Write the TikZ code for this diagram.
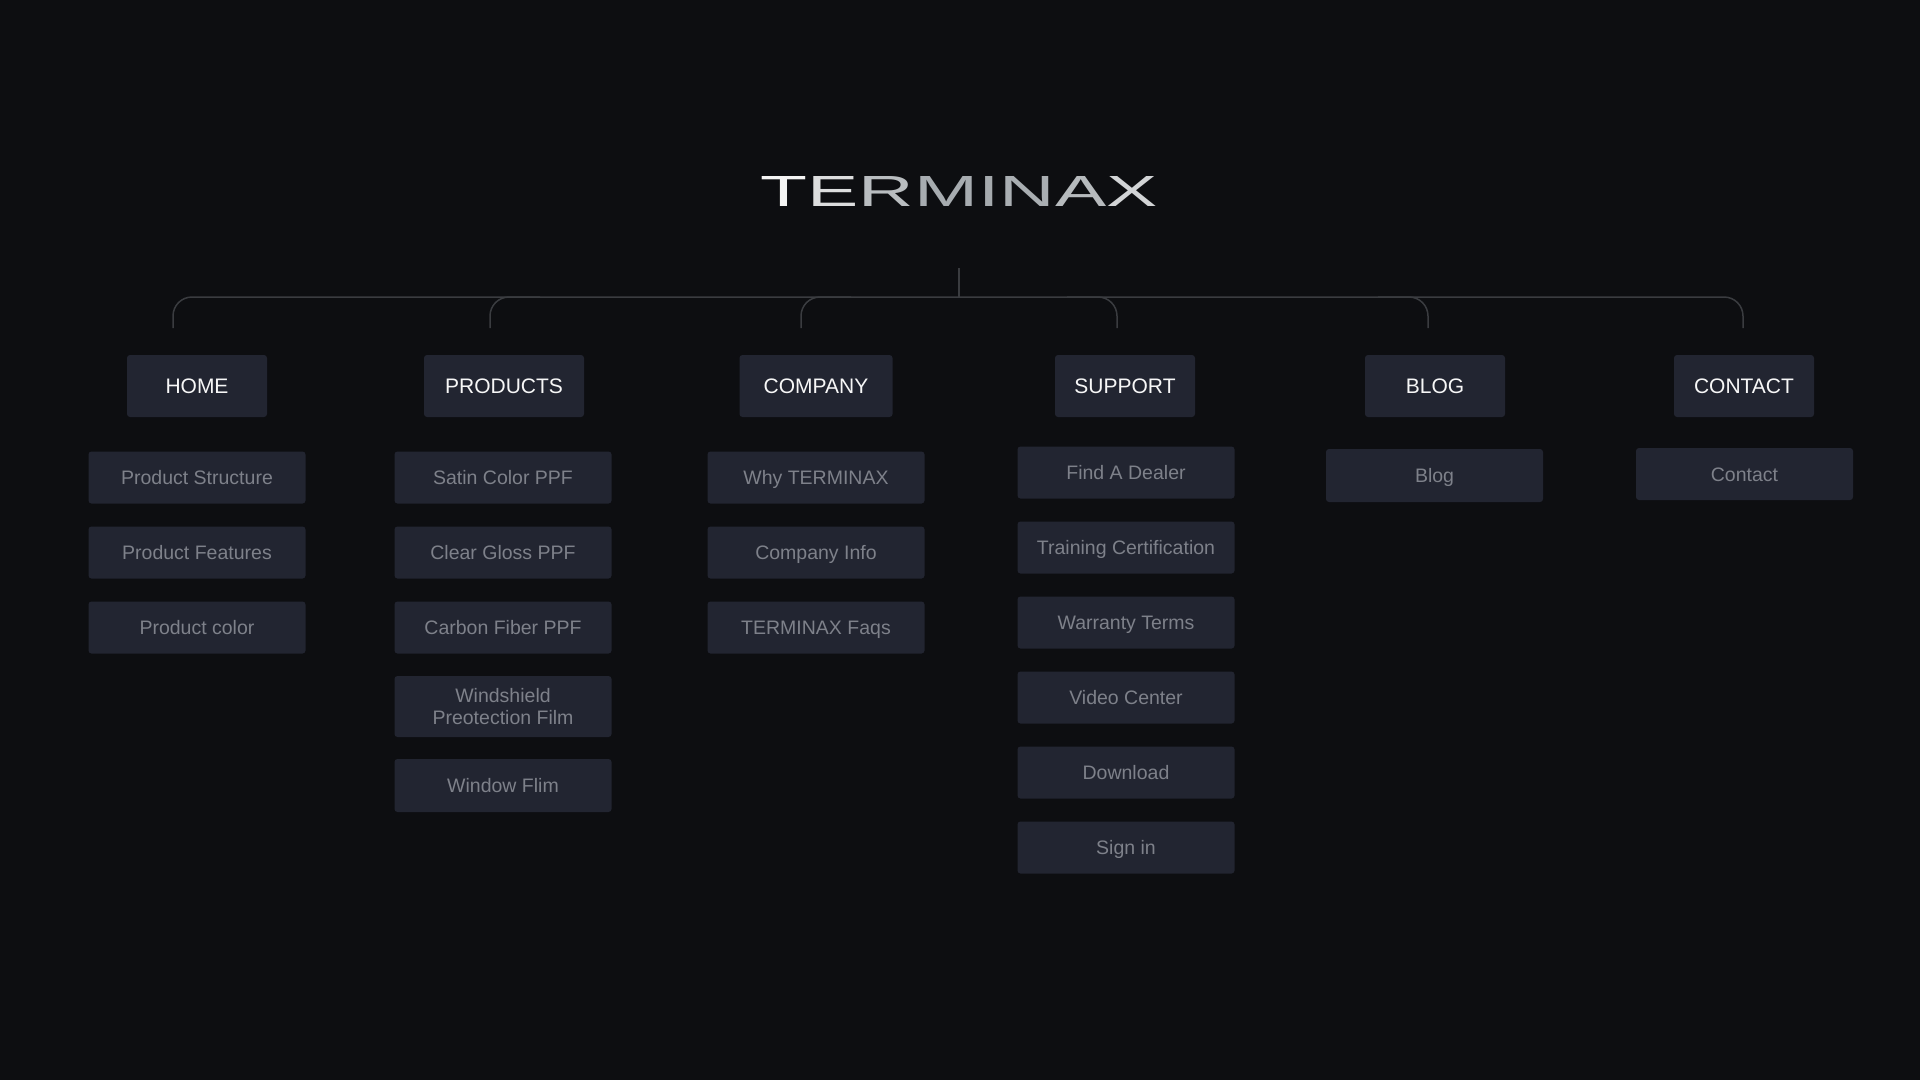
\documentclass[tikz,border=0pt]{standalone}
\usepackage{fontspec}
\usepackage{graphicx}
\setmainfont{Liberation Sans}
\newfontfamily\logofont[LetterSpace=9]{Liberation Sans}
\usetikzlibrary{calc}
\definecolor{bgc}{HTML}{0D0E11}
\definecolor{boxc}{HTML}{222531}
\definecolor{subtxt}{HTML}{7E818A}
\definecolor{hdrtxt}{HTML}{F7F7F7}
\definecolor{linec}{HTML}{3A3C40}
\definecolor{lga}{HTML}{F4F4F4}
\definecolor{lgb}{HTML}{DCDDDE}
\definecolor{lgc}{HTML}{B9BDC0}
\definecolor{lgd}{HTML}{A7ACB0}
\definecolor{lge}{HTML}{A5AAAE}
\definecolor{lgf}{HTML}{A9AEB2}
\definecolor{lgg}{HTML}{B6BABD}
\definecolor{lgh}{HTML}{D2D4D6}
\tikzset{
  boxbase/.style={fill=boxc, rounded corners=3pt, inner sep=0pt},
  hdr/.style={boxbase, minimum height=62pt, text=hdrtxt,
    font=\fontsize{21}{24}\selectfont, text height=15pt, text depth=0pt},
  subbase/.style={boxbase, minimum width=217pt, minimum height=52pt, text=subtxt,
    font=\fontsize{19.5}{22}\selectfont},
  sub/.style={subbase, text height=14pt, text depth=0pt},
  conn/.style={draw=linec, line width=1.5pt, rounded corners=19pt},
}
\begin{document}
\begin{tikzpicture}[x=1pt,y=-1pt]
\fill[bgc] (0,0) rectangle (1920,1080);
\useasboundingbox (0,0) rectangle (1920,1080);

% logo
\node[inner sep=0pt] (logo) at (959,191) {\resizebox{397pt}{30pt}{\logofont\fontsize{42}{42}\selectfont
  {\color{lga}T}{\color{lgb}E}{\color{lgc}R}{\color{lgd}M}{\color{lge}I}{\color{lgf}N}{\color{lgg}A}{\color{lgh}X}}};

% headers
\node[hdr, minimum width=140pt] (home) at (197,386) {HOME};
\node[hdr, minimum width=160pt] (products) at (504,386) {PRODUCTS};
\node[hdr, minimum width=153pt] (company) at (816,386) {COMPANY};
\node[hdr, minimum width=140pt] (support) at (1125,386) {SUPPORT};
\node[hdr, minimum width=140pt] (blog) at (1435,386) {BLOG};
\node[hdr, minimum width=140pt] (contact) at (1744,386) {CONTACT};

% HOME
\node[sub] (h1) at (197,477.5) {Product Structure};
\node[sub] (h2) at (197,552.5) {Product Features};
\node[sub] (h3) at (197,627.5) {Product color};

% PRODUCTS
\node[sub] (p1) at (503,477.5) {Satin Color PPF};
\node[sub] (p2) at (503,552.5) {Clear Gloss PPF};
\node[sub] (p3) at (503,627.5) {Carbon Fiber PPF};
\node[subbase, minimum height=61pt, align=center] (p4) at (503,706.5) {Windshield\\Preotection Film};
\node[sub, minimum height=53pt] (p5) at (503,785.5) {Window Flim};

% COMPANY
\node[sub] (c1) at (816,477.5) {Why TERMINAX};
\node[sub] (c2) at (816,552.5) {Company Info};
\node[sub] (c3) at (816,627.5) {TERMINAX Faqs};

% SUPPORT
\node[sub] (s1) at (1126,472.5) {Find A Dealer};
\node[sub] (s2) at (1126,547.5) {Training Certification};
\node[sub] (s3) at (1126,622.5) {Warranty Terms};
\node[sub] (s4) at (1126,697.5) {Video Center};
\node[sub] (s5) at (1126,772.5) {Download};
\node[sub] (s6) at (1126,847.5) {Sign in};

% BLOG / CONTACT
\node[sub, minimum height=53pt] (b1n) at (1434.5,475.5) {Blog};
\node[sub] (ct1) at (1744.5,474) {Contact};

% connectors
\coordinate (root) at (959,268);
\coordinate (bus) at (959,297);
\coordinate (br1) at (173,328);
\coordinate (br2) at (490,328);
\coordinate (br3) at (801,328);
\coordinate (br4) at (1117,328);
\coordinate (br5) at (1428,328);
\coordinate (br6) at (1743,328);
\coordinate (j2) at (540,297);
\coordinate (j3) at (851,297);
\coordinate (j4) at (1067,297);
\coordinate (j5) at (1378,297);
\draw[conn] (root) -- (bus);
\draw[conn] (br1) |- (bus) -| (br6);
\draw[conn] (br2) |- (j2);
\draw[conn] (br3) |- (j3);
\draw[conn] (br4) |- (j4);
\draw[conn] (br5) |- (j5);
\end{tikzpicture}
\end{document}
